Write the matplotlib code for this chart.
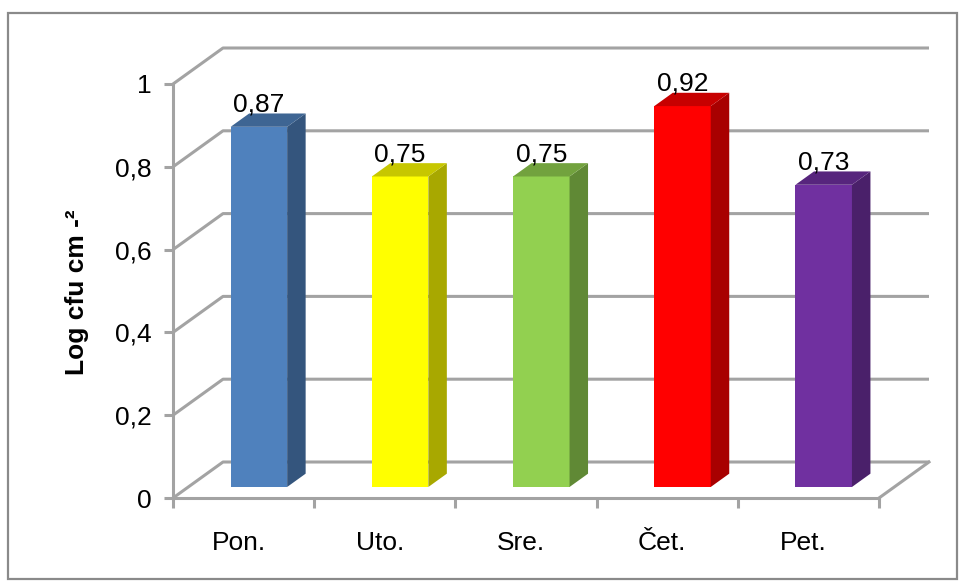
import matplotlib
matplotlib.use("Agg")
import matplotlib.pyplot as plt
from matplotlib.patches import Polygon, Rectangle
from matplotlib.colors import to_rgb
from matplotlib.transforms import ScaledTranslation

# Data
days = ["Pon.", "Uto.", "Sre.", "Čet.", "Pet."]
log_cfu = [0.87, 0.75, 0.75, 0.92, 0.73]
bar_colors = ["#4F81BD", "#FFFF00", "#92D050", "#FF0000", "#7030A0"]
y_ticks = [0, 0.2, 0.4, 0.6, 0.8, 1.0]
y_tick_labels = ["0", "0,2", "0,4", "0,6", "0,8", "1"]
y_label = "Log cfu cm -²"

plt.rcParams["font.family"] = ["Liberation Sans", "DejaVu Sans"]

W, H = 963, 582
fig = plt.figure(figsize=(W / 100, H / 100), dpi=100)
fig.patch.set_facecolor("white")

# Front plane of the 3-D box
ax = fig.add_axes([173 / W, (H - 498) / H, 706 / W, 414 / H])
ax.set_xlim(-0.5, len(days) - 0.5)
ax.set_ylim(0, 1)
ax.set_facecolor("none")

grid_col = "#a3a3a3"
grid_lw = 2.2

# Depth of the box expressed in data units (full depth of the floor)
DX = 50 / 141.2
DY = 36 / 414.0
x0, x1 = -0.5, len(days) - 0.5

# Back wall grid lines and the left wall diagonals
for t in y_ticks:
    ax.plot([x0, x0 + DX, x1 + DX], [t, t + DY, t + DY], color=grid_col,
            lw=grid_lw, clip_on=False, zorder=1, solid_capstyle="butt")
# Right edge of the floor
ax.plot([x1, x1 + DX], [0, DY], color=grid_col, lw=grid_lw, clip_on=False, zorder=1)

# Spines form the front vertical axis and front floor edge
for side in ("top", "right"):
    ax.spines[side].set_visible(False)
for side in ("left", "bottom"):
    ax.spines[side].set_color(grid_col)
    ax.spines[side].set_linewidth(grid_lw)
    ax.spines[side].set_zorder(4)

ax.set_yticks(y_ticks)
ax.set_yticklabels(y_tick_labels)
ax.tick_params(axis="y", direction="out", length=6.5, width=grid_lw, color=grid_col,
               pad=9, labelsize=19, labelcolor="black")

ax.set_xticks(range(len(days)))
ax.set_xticklabels(days)
ax.set_xticks([i - 0.5 for i in range(len(days) + 1)], minor=True)
ax.tick_params(axis="x", which="major", length=0, pad=24, labelsize=19, labelcolor="black")
ax.tick_params(axis="x", which="minor", direction="out", length=7.5, width=grid_lw,
               color=grid_col)

# Nudge category labels slightly left
nudge = ScaledTranslation(-5 / 100, 0, fig.dpi_scale_trans)
for tick in ax.xaxis.get_major_ticks():
    tick.label1.set_transform(tick.label1.get_transform() + nudge)


def shade(color, f):
    r, g, b = to_rgb(color)
    return (r * f, g * f, b * f)


# 3-D columns: front face drawn with ax.bar, side and top faces derived from it
d0 = 0.306      # depth of the column front face
dd = 0.37       # column depth
bw = 0.4        # column width
xs = [i + d0 * DX for i in range(len(days))]
base = d0 * DY
ax.bar(xs, log_cfu, width=bw, bottom=base, color=bar_colors, zorder=3,
       linewidth=0, clip_on=False)

for x, v, c in zip(xs, log_cfu, bar_colors):
    xl, xr = x - bw / 2, x + bw / 2
    top = base + v
    side = Polygon([(xr, base), (xr + dd * DX, base + dd * DY),
                    (xr + dd * DX, top + dd * DY), (xr, top)],
                   closed=True, facecolor=shade(c, 0.66), edgecolor="none",
                   zorder=3, clip_on=False)
    cap = Polygon([(xl, top), (xr, top), (xr + dd * DX, top + dd * DY),
                   (xl + dd * DX, top + dd * DY)],
                  closed=True, facecolor=shade(c, 0.78), edgecolor="none",
                  zorder=3, clip_on=False)
    ax.add_patch(side)
    ax.add_patch(cap)
    ax.annotate(f"{v:.2f}".replace(".", ","), xy=(x, top), xytext=(0, 11),
                textcoords="offset points", ha="center", va="baseline",
                fontsize=19, color="black", zorder=5, annotation_clip=False)

# Axis title
fig.text(77 / W, 1 - 292 / H, y_label, rotation=90, ha="center", va="center",
         fontsize=19, fontweight="bold", color="black")

# Chart frame
fig.patches.append(Rectangle((8 / W, 3 / H), 949 / W, 566 / H, transform=fig.transFigure,
                             fill=False, edgecolor="#8a8a8a", linewidth=1.6))

fig.savefig("out.png", dpi=100, facecolor="white")
